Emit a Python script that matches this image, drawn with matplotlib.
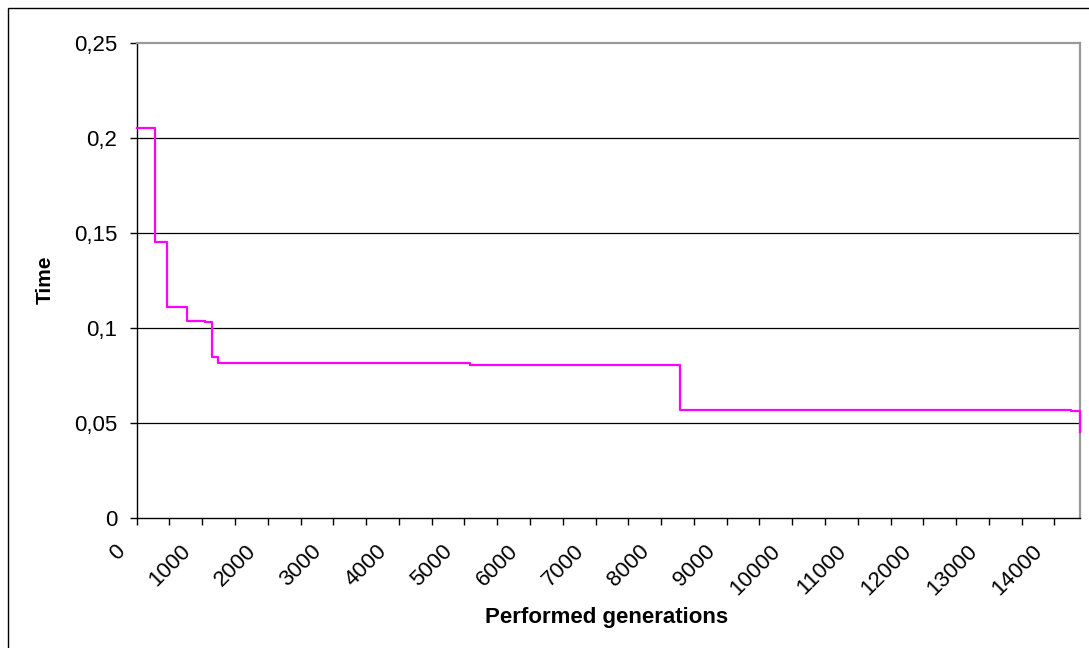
import matplotlib
matplotlib.use("Agg")
import matplotlib.pyplot as plt
import matplotlib.transforms as mtransforms
from matplotlib.patches import Rectangle
from matplotlib.ticker import MultipleLocator, FuncFormatter

plt.rcParams['font.family'] = ['Liberation Sans', 'DejaVu Sans']

# Best time found so far, recorded where it changes
generations = [0, 279, 457, 762, 1046, 1143, 1235, 5088, 8282, 14253, 14390]
best_time = [0.2054, 0.1453, 0.1112, 0.1038, 0.1032, 0.0849, 0.0814, 0.0805, 0.0568, 0.0566, 0.0454]

x_max = 14390
y_ticks = [0, 0.05, 0.1, 0.15, 0.2, 0.25]

W, H = 1089, 648
fig = plt.figure(figsize=(W / 100, H / 100), dpi=100)
fig.patch.set_facecolor('white')

# Outer chart frame
fig.patches.append(Rectangle((8 / W, -0.1), 1.2, 1 - 8 / H + 0.1,
                             transform=fig.transFigure, fill=False,
                             edgecolor='black', linewidth=1.0))

left, right = 136.7 / W, 1080 / W
bottom, top = 1 - 518 / H, 1 - 43.3 / H
ax = fig.add_axes([left, bottom, right - left, top - bottom])

ax.step(generations, best_time, where='post', color='#FF00FF', linewidth=1.6,
        zorder=3, clip_on=False)

ax.set_xlim(0, x_max)
ax.set_ylim(0, 0.25)

# Horizontal gridlines
for v in y_ticks[1:-1]:
    ax.axhline(v, color='black', linewidth=0.9, zorder=1)

for side in ['top', 'right']:
    ax.spines[side].set_color('#999999')
    ax.spines[side].set_linewidth(1.6)
for side in ['left', 'bottom']:
    ax.spines[side].set_color('black')
    ax.spines[side].set_linewidth(1.0)

ax.set_yticks(y_ticks)
ax.yaxis.set_major_formatter(FuncFormatter(lambda v, p: ('%g' % v).replace('.', ',')))

ax.xaxis.set_major_locator(MultipleLocator(1000))
ax.xaxis.set_minor_locator(MultipleLocator(500))
ax.xaxis.set_major_formatter(FuncFormatter(lambda v, p: '%d' % v))

ax.tick_params(axis='both', which='both', direction='out', length=5, width=1,
               colors='black', labelsize=16)
ax.tick_params(axis='y', pad=9)

offset = mtransforms.ScaledTranslation(-16 / 72, -8 / 72, fig.dpi_scale_trans)
for lab in ax.get_xticklabels():
    lab.set_rotation(45)
    lab.set_ha('right')
    lab.set_va('top')
    lab.set_rotation_mode('anchor')
    lab.set_transform(lab.get_transform() + offset)

fig.text(607 / W, 1 - 617 / H, 'Performed generations', ha='center', va='center',
         fontsize=16, fontweight='bold')
fig.text(45 / W, 1 - 280 / H, 'Time', ha='center', va='center', rotation=90,
         fontsize=15, fontweight='bold')

fig.savefig('out.png', dpi=100)
